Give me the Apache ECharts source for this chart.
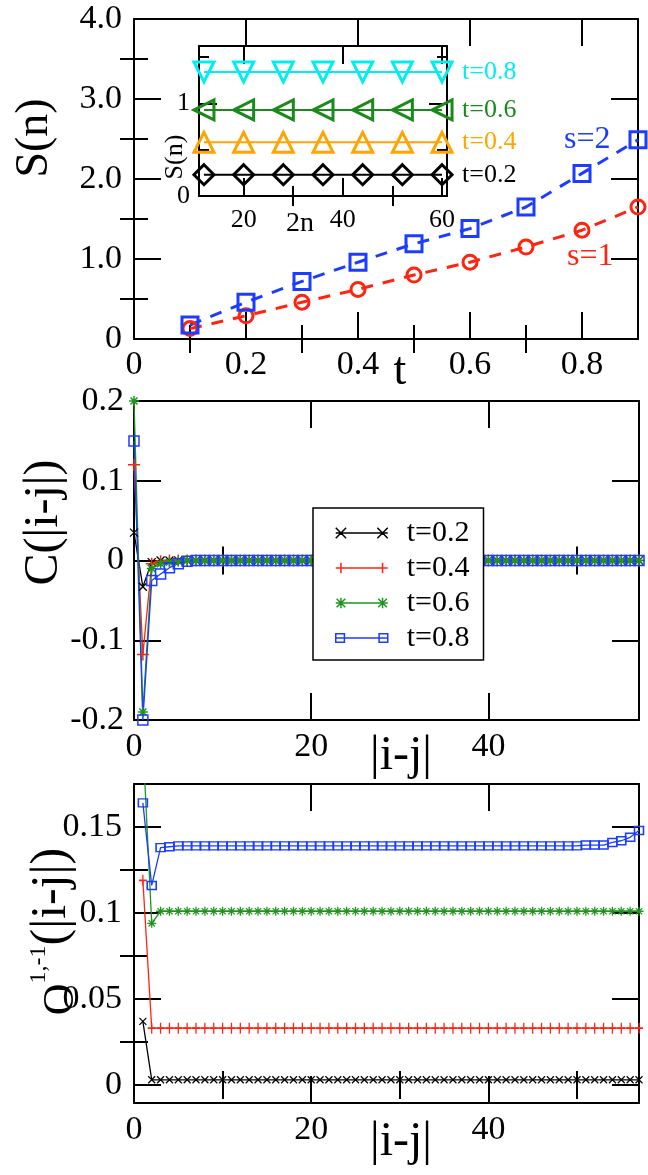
<!DOCTYPE html>
<html><head><meta charset="utf-8">
<script src="https://cdn.jsdelivr.net/npm/echarts@6/dist/echarts.min.js"></script>
<style>html,body{margin:0;padding:0;background:#fff}#c{width:648px;height:1175px}</style>
</head><body><div id="c"></div>
<script>
// ---------- data ----------
// top panel: S(n) vs t
const tVals = [0.1,0.2,0.3,0.4,0.5,0.6,0.7,0.8,0.9];
const sS1 = [0.13,0.29,0.46,0.62,0.80,0.96,1.15,1.36,1.65];
const sS2 = [0.175,0.46,0.72,0.96,1.19,1.38,1.65,2.07,2.49];
// inset: S(n) vs 2n
const nVals = [12,20,28,36,44,52,60];
const in02 = [0.23,0.23,0.23,0.23,0.23,0.23,0.23];
const in04 = [0.58,0.58,0.58,0.58,0.58,0.58,0.58];
const in06 = [0.93,0.93,0.93,0.93,0.93,0.93,0.93];
const in08 = [1.34,1.34,1.34,1.34,1.34,1.34,1.34];
// middle panel: C(|i-j|), |i-j| = 0..57
const cIdx = [0,1,2,3,4,5,6,7,8,9,10,11,12,13,14,15,16,17,18,19,20,21,22,23,24,25,26,27,28,29,
  30,31,32,33,34,35,36,37,38,39,40,41,42,43,44,45,46,47,48,49,50,51,52,53,54,55,56,57];
const c02 = [0.035,-0.033,-0.002,0,0,0,0,0,0,0, 0,0,0,0,0,0,0,0,0,0, 0,0,0,0,0,0,0,0,0,0,
  0,0,0,0,0,0,0,0,0,0, 0,0,0,0,0,0,0,0,0,0, 0,0,0,0,0,0,0,0];
const c04 = [0.12,-0.118,-0.004,-0.001,0,0,0,0,0,0, 0,0,0,0,0,0,0,0,0,0, 0,0,0,0,0,0,0,0,0,0,
  0,0,0,0,0,0,0,0,0,0, 0,0,0,0,0,0,0,0,0,0, 0,0,0,0,0,0,0,0];
const c06 = [0.2,-0.19,-0.01,-0.004,-0.002,-0.001,0,0,0,0, 0,0,0,0,0,0,0,0,0,0, 0,0,0,0,0,0,0,0,0,0,
  0,0,0,0,0,0,0,0,0,0, 0,0,0,0,0,0,0,0,0,0, 0,0,0,0,0,0,0,0];
const c08 = [0.15,-0.2,-0.025,-0.017,-0.009,-0.004,-0.001,0,0,0, 0,0,0,0,0,0,0,0,0,0, 0,0,0,0,0,0,0,0,0,0,
  0,0,0,0,0,0,0,0,0,0, 0,0,0,0,0,0,0,0,0,0, 0,0,0,0,0,0,0,0];
// bottom panel: O^{1,-1}(|i-j|), |i-j| = 1..57
const oIdx = [1,2,3,4,5,6,7,8,9,10,11,12,13,14,15,16,17,18,19,20,21,22,23,24,25,26,27,28,29,
  30,31,32,33,34,35,36,37,38,39,40,41,42,43,44,45,46,47,48,49,50,51,52,53,54,55,56,57];
const o02 = [0.037,0.003,0.003,0.003,0.003,0.003,0.003,0.003,0.003,0.003,
  0.003,0.003,0.003,0.003,0.003,0.003,0.003,0.003,0.003,0.003,
  0.003,0.003,0.003,0.003,0.003,0.003,0.003,0.003,0.003,0.003,
  0.003,0.003,0.003,0.003,0.003,0.003,0.003,0.003,0.003,0.003,
  0.003,0.003,0.003,0.003,0.003,0.003,0.003,0.003,0.003,0.003,
  0.003,0.003,0.003,0.003,0.003,0.003,0.003];
const o04 = [0.119,0.033,0.033,0.033,0.033,0.033,0.033,0.033,0.033,0.033,
  0.033,0.033,0.033,0.033,0.033,0.033,0.033,0.033,0.033,0.033,
  0.033,0.033,0.033,0.033,0.033,0.033,0.033,0.033,0.033,0.033,
  0.033,0.033,0.033,0.033,0.033,0.033,0.033,0.033,0.033,0.033,
  0.033,0.033,0.033,0.033,0.033,0.033,0.033,0.033,0.033,0.033,
  0.033,0.033,0.033,0.033,0.033,0.033,0.033];
const o06 = [0.2,0.094,0.101,0.101,0.101,0.101,0.101,0.101,0.101,0.101,
  0.101,0.101,0.101,0.101,0.101,0.101,0.101,0.101,0.101,0.101,
  0.101,0.101,0.101,0.101,0.101,0.101,0.101,0.101,0.101,0.101,
  0.101,0.101,0.101,0.101,0.101,0.101,0.101,0.101,0.101,0.101,
  0.101,0.101,0.101,0.101,0.101,0.101,0.101,0.101,0.101,0.101,
  0.101,0.101,0.101,0.101,0.101,0.101,0.101];
const o08 = [0.164,0.116,0.138,0.1385,0.139,0.139,0.139,0.139,0.139,0.139,
  0.139,0.139,0.139,0.139,0.139,0.139,0.139,0.139,0.139,0.139,
  0.139,0.139,0.139,0.139,0.139,0.139,0.139,0.139,0.139,0.139,
  0.139,0.139,0.139,0.139,0.139,0.139,0.139,0.139,0.139,0.139,
  0.139,0.139,0.139,0.139,0.139,0.139,0.139,0.139,0.139,0.139,
  0.1395,0.1395,0.1395,0.141,0.142,0.144,0.148];
// tick labels
const topXLabels = [0,0.2,0.4,0.6,0.8];
const topYLabels = [0,1,2,3,4];
const inXLabels = [20,40,60];
const inYLabels = [0,1];
const midXLabels = [0,20,40];
const midYLabels = [-0.2,-0.1,0,0.1,0.2];
const botYLabels = [0,0.05,0.1,0.15];
const legendNames = ['t=0.2','t=0.4','t=0.6','t=0.8'];

// ---------- styling ----------
const FONT = 'Liberation Serif';
const BLUE = '#1c3cff', RED = '#ff2410', GREEN = '#1e961e', BLACK = '#000';
const CYAN = '#00eef0', ORANGE = '#ffa500', IGREEN = '#1a8a1a';
const P = {
  sq: 'path://M0,0L10,0L10,10L0,10Z',
  x: 'path://M0,0L10,10M10,0L0,10',
  plus: 'path://M5,0L5,10M0,5L10,5',
  star: 'path://M5,0L5,10M0,5L10,5M1.5,1.5L8.5,8.5M8.5,1.5L1.5,8.5',
  tdown: 'path://M0,0L10,0L5,9Z',
  tleft: 'path://M9,0L9,10L0,5Z',
  tup: 'path://M5,0L10,9L0,9Z',
  dia: 'path://M5,0L10,5L5,10L0,5Z'
};

const xAxes = [], yAxes = [];
function addAxes(list, dim, grid, o) {
  const posA = dim === 'x' ? 'bottom' : 'left';
  const posB = dim === 'x' ? 'top' : 'right';
  const base = {type: 'value', gridIndex: grid, min: o.min, max: o.max, splitLine: {show: false}};
  const line = {show: true, onZero: false, lineStyle: {color: '#000', width: 2}};
  const tick = (vals, len) => ({show: true, inside: true, length: len, customValues: vals, lineStyle: {color: '#000', width: 2}});
  const mainIdx = list.length;
  list.push(Object.assign({}, base, {
    position: posA, axisLine: line, axisTick: tick(o.majors, o.majorLen),
    axisLabel: {show: true, customValues: o.labels, formatter: o.fmt, margin: o.labelMargin,
      fontFamily: FONT, fontSize: o.labelSize, color: '#000'},
    name: o.name, nameLocation: 'middle', nameGap: o.nameGap, nameMoveOverlap: false, nameTextStyle: o.nameStyle
  }));
  list.push(Object.assign({}, base, {position: posB, axisLine: line, axisTick: tick(o.majors, o.majorLen), axisLabel: {show: false}}));
  if (o.minors && o.minors.length) {
    list.push(Object.assign({}, base, {position: posA, axisLine: {show: false}, axisTick: tick(o.minors, o.minorLen), axisLabel: {show: false}}));
    list.push(Object.assign({}, base, {position: posB, axisLine: {show: false}, axisTick: tick(o.minors, o.minorLen), axisLabel: {show: false}}));
  }
  return mainIdx;
}
const nameBase = {fontFamily: FONT, color: '#000'};

// grid 0: top, grid 1: inset, grid 2: middle, grid 3: bottom
const gridBase = {containLabel: false, outerBoundsMode: 'none'};
const grids = [
  Object.assign({left: 134, top: 19, width: 504, height: 320}, gridBase),
  Object.assign({left: 199, top: 46, width: 248, height: 150}, gridBase),
  Object.assign({left: 134, top: 401, width: 505, height: 319}, gridBase),
  Object.assign({left: 134, top: 784, width: 505, height: 319}, gridBase)
];

const tx = addAxes(xAxes, 'x', 0, {min: 0, max: 0.9, labels: topXLabels, majors: [0.2,0.4,0.6,0.8], minors: [0.1,0.3,0.5,0.7],
  fmt: v => v === 0 ? '0' : String(v), majorLen: 27, minorLen: 14, labelSize: 34, labelMargin: 9,
  name: 't', nameGap: 10, nameStyle: Object.assign({fontSize: 46, padding: [0,0,0,28]}, nameBase)});
const ty = addAxes(yAxes, 'y', 0, {min: 0, max: 4, labels: topYLabels, majors: [1,2,3], minors: [0.5,1.5,2.5,3.5],
  fmt: v => v === 0 ? '0' : v.toFixed(1), majorLen: 27, minorLen: 14, labelSize: 34, labelMargin: 12,
  name: 'S(n)', nameGap: 76, nameStyle: Object.assign({fontSize: 46, padding: [0,0,0,82]}, nameBase)});
const ix = addAxes(xAxes, 'x', 1, {min: 11, max: 61, labels: inXLabels, majors: [20,40,60], minors: [30,50],
  fmt: v => String(v), majorLen: 18, minorLen: 10, labelSize: 26, labelMargin: 11,
  name: '2n', nameGap: 14, nameStyle: Object.assign({fontSize: 28, padding: [0,46,0,0]}, nameBase)});
const iy = addAxes(yAxes, 'y', 1, {min: 0, max: 1.62, labels: inYLabels, majors: [1], minors: [0.5,1.5],
  fmt: v => String(v), majorLen: 18, minorLen: 10, labelSize: 26, labelMargin: 9,
  name: 'S(n)', nameGap: 11, nameStyle: Object.assign({fontSize: 26, padding: [0,72,0,0]}, nameBase)});
const mx = addAxes(xAxes, 'x', 2, {min: 0, max: 57, labels: midXLabels, majors: [20,40], minors: [10,30,50],
  fmt: v => String(v), majorLen: 27, minorLen: 14, labelSize: 34, labelMargin: 10,
  name: '|i-j|', nameGap: 12, nameStyle: Object.assign({fontSize: 48, padding: [0,0,0,29]}, nameBase)});
const my = addAxes(yAxes, 'y', 2, {min: -0.2, max: 0.2, labels: midYLabels, majors: [-0.1,0,0.1], minors: [],
  fmt: v => String(v), majorLen: 27, minorLen: 14, labelSize: 34, labelMargin: 10,
  name: 'C(|i-j|)', nameGap: 66, nameStyle: Object.assign({fontSize: 48, padding: [0,0,0,76]}, nameBase)});
const bx = addAxes(xAxes, 'x', 3, {min: 0, max: 57, labels: midXLabels, majors: [20,40], minors: [10,30,50],
  fmt: v => String(v), majorLen: 27, minorLen: 14, labelSize: 34, labelMargin: 10,
  name: '|i-j|', nameGap: 15, nameStyle: Object.assign({fontSize: 48, padding: [0,0,0,29]}, nameBase)});
const by = addAxes(yAxes, 'y', 3, {min: -0.0105, max: 0.175, labels: botYLabels, majors: [0,0.05,0.1,0.15], minors: [0.025,0.075,0.125],
  fmt: v => String(v), majorLen: 27, minorLen: 14, labelSize: 34, labelMargin: 12,
  name: '{o|O}{s|1,-1}{p|(|i-j|)}', nameGap: 57,
  nameStyle: Object.assign({padding: [0,0,0,24], rich: {
    o: {fontFamily: FONT, fontSize: 44, lineHeight: 44, verticalAlign: 'top', padding: [12,0,0,0], color: '#000'},
    s: {fontFamily: FONT, fontSize: 24, lineHeight: 24, verticalAlign: 'top', color: '#000'},
    p: {fontFamily: FONT, fontSize: 50, lineHeight: 50, verticalAlign: 'bottom', padding: [22,0,0,0], color: '#000'}
  }}, nameBase)});

function pts(xs, ys) { return xs.map((x, i) => [x, ys[i]]); }
function lineSeries(name, xi, yi, xs, ys, color, symbol, size, lw, bw, extra) {
  return Object.assign({
    type: 'line', name: name, xAxisIndex: xi, yAxisIndex: yi, data: pts(xs, ys),
    symbol: symbol, symbolSize: size, showAllSymbol: true,
    lineStyle: {color: color, width: lw},
    itemStyle: {color: 'transparent', borderColor: color, borderWidth: bw},
    emphasis: {disabled: true}, animation: false
  }, extra || {});
}

const series = [];
// top main
const s2data = pts(tVals, sS2);
s2data[8] = {value: s2data[8], label: {show: true, position: 'left', distance: 18, formatter: 's=2',
  color: BLUE, fontFamily: FONT, fontSize: 32}};
const s1data = pts(tVals, sS1);
s1data[8] = {value: s1data[8], label: {show: true, position: 'left', distance: 16, offset: [0, 50], formatter: 's=1',
  color: RED, fontFamily: FONT, fontSize: 32}};
series.push(lineSeries('s=1', tx, ty, tVals, sS1, RED, 'circle', 14, 3, 3,
  {data: s1data, clip: false, lineStyle: {color: RED, width: 3, type: [12, 10]}}));
series.push(lineSeries('s=2', tx, ty, tVals, sS2, BLUE, P.sq, 16, 3, 3,
  {data: s2data, clip: false, lineStyle: {color: BLUE, width: 3, type: [12, 10]}}));
// inset
const endLab = (txt, c) => ({endLabel: {show: true, formatter: txt, color: c, fontFamily: FONT, fontSize: 26, distance: 20}});
series.push(lineSeries('in02', ix, iy, nVals, in02, BLACK, P.dia, 20, 2, 3, endLab('t=0.2', BLACK)));
series.push(lineSeries('in04', ix, iy, nVals, in04, ORANGE, P.tup, 20, 2, 3, endLab('t=0.4', ORANGE)));
series.push(lineSeries('in06', ix, iy, nVals, in06, IGREEN, P.tleft, 20, 2, 3, endLab('t=0.6', IGREEN)));
series.push(lineSeries('in08', ix, iy, nVals, in08, CYAN, P.tdown, 20, 2, 3, endLab('t=0.8', CYAN)));
// middle
series.push(lineSeries('t=0.2', mx, my, cIdx, c02, BLACK, P.x, 8, 1.3, 1.3));
series.push(lineSeries('t=0.4', mx, my, cIdx, c04, RED, P.plus, 12, 1.3, 1.5));
series.push(lineSeries('t=0.6', mx, my, cIdx, c06, GREEN, P.star, 10, 1.3, 1.5));
series.push(lineSeries('t=0.8', mx, my, cIdx, c08, BLUE, P.sq, 10, 1.3, 1.5));
// bottom
series.push(lineSeries('o02', bx, by, oIdx, o02, BLACK, P.x, 7, 1.3, 1.2));
series.push(lineSeries('o04', bx, by, oIdx, o04, RED, P.plus, [8, 11], 1.3, 1.5));
series.push(lineSeries('o06', bx, by, oIdx, o06, GREEN, P.star, 9, 1.3, 1.3));
series.push(lineSeries('o08', bx, by, oIdx, o08, BLUE, P.sq, [9, 8], 1.3, 1.5));

const legIcons = {
  't=0.2': 'path://M0,6L60,6M0,0L12,12M12,0L0,12M48,0L60,12M60,0L48,12',
  't=0.4': 'path://M0,6L60,6M6,0L6,12M54,0L54,12',
  't=0.6': 'path://M0,6L60,6M6,0L6,12M54,0L54,12M1,1L11,11M11,1L1,11M49,1L59,11M59,1L49,11',
  't=0.8': 'path://M0,6L60,6M0,1L10,1L10,11L0,11ZM50,1L60,1L60,11L50,11Z'
};
const legColors = {'t=0.2': BLACK, 't=0.4': RED, 't=0.6': GREEN, 't=0.8': BLUE};

const option = {
  animation: false,
  backgroundColor: '#fff',
  grid: grids,
  xAxis: xAxes,
  yAxis: yAxes,
  legend: {
    orient: 'vertical', left: 313, top: 508,
    padding: [10, 14, 7, 22], itemGap: 5, itemWidth: 52, itemHeight: 12,
    backgroundColor: '#fff', borderColor: '#000', borderWidth: 1.5,
    textStyle: {fontFamily: FONT, fontSize: 30, lineHeight: 30, color: '#000', padding: [0, 0, 0, 14]},
    selectedMode: false,
    data: legendNames.map(n => ({name: n, icon: legIcons[n],
      itemStyle: {color: 'transparent', borderColor: legColors[n], borderWidth: 1.5}}))
  },
  series: series
};
const chart = echarts.init(document.getElementById('c'), null, {renderer: 'canvas'});
chart.setOption(option);
</script></body></html>
